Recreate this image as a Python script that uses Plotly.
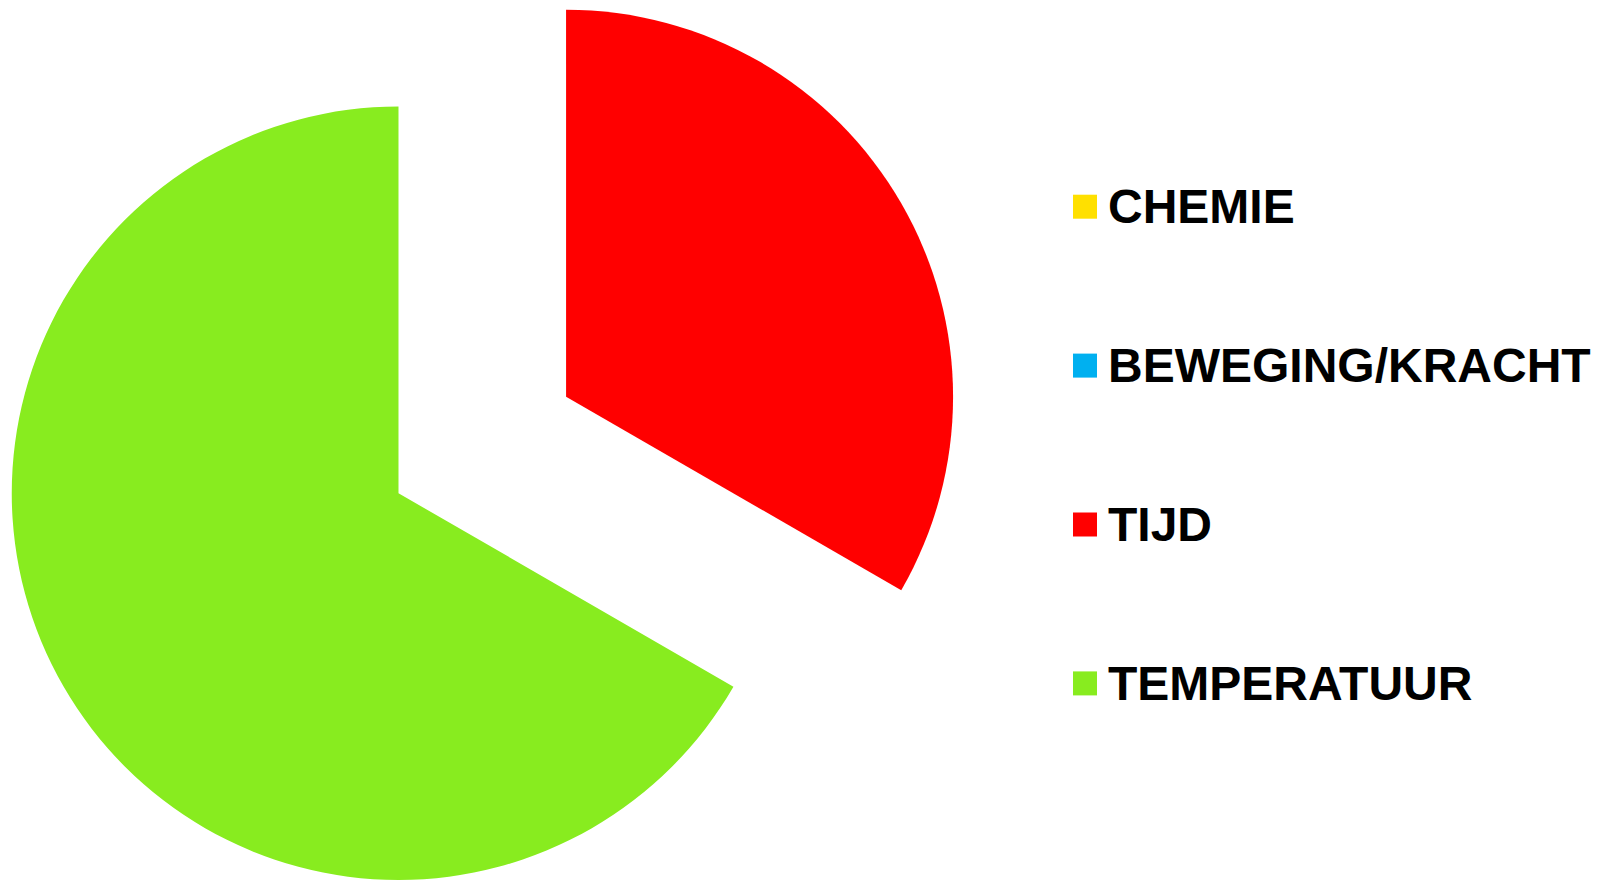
import plotly.graph_objects as go
import math

# ---- data ----
categories = ["CHEMIE", "BEWEGING/KRACHT", "TIJD", "TEMPERATUUR"]
values = [0, 0, 1, 2]
colors = ["#FFE000", "#00B0F0", "#FF0000", "#88EC1F"]
exploded = "TIJD"

# ---- layout constants (screen pixels; page body has an 8px margin) ----
OFF = 8
W, H = 1606 - OFF, 880 - OFF
R = 387
base_center = (398.5 - OFF, 493.5 - OFF)   # un-pulled pie centre (figure px)
pull = 0.5                                  # fraction of radius the exploded slice moves

total = sum(values)
idx = categories.index(exploded)
start = sum(values[:idx]) / total
mid = (start + values[idx] / total / 2) * 2 * math.pi   # clockwise from 12 o'clock
pulled_center = (base_center[0] + pull * R * math.sin(mid),
                 base_center[1] - pull * R * math.cos(mid))

def domain(center):
    cx, cy = center
    return dict(x=[max(0, (cx - R) / W), min(1, (cx + R) / W)],
                y=[max(0, 1 - (cy + R) / H), min(1, 1 - (cy - R) / H)])

TRANSP = "rgba(0,0,0,0)"
col_rest = [c if cat != exploded else TRANSP for cat, c in zip(categories, colors)]
col_expl = [c if cat == exploded else TRANSP for cat, c in zip(categories, colors)]

fig = go.Figure()
fig.add_trace(go.Pie(labels=categories, values=values, sort=False, direction="clockwise",
                     rotation=0, marker=dict(colors=col_rest), textinfo="none",
                     showlegend=False, domain=domain(base_center), hoverinfo="label+value"))
fig.add_trace(go.Pie(labels=categories, values=values, sort=False, direction="clockwise",
                     rotation=0, marker=dict(colors=col_expl), textinfo="none",
                     showlegend=False, domain=domain(pulled_center), hoverinfo="label+value"))

# ---- legend (drawn manually for large square swatches) ----
leg_x0, sq = 1073 - OFF, 24
leg_top, leg_step = 206.7 - OFF, 158.9
text_x = 1106 - OFF
shapes, annotations = [], []
for i, (cat, c) in enumerate(zip(categories, colors)):
    yc = leg_top + i * leg_step
    shapes.append(dict(type="rect", xref="paper", yref="paper",
                       x0=leg_x0 / W, x1=(leg_x0 + sq) / W,
                       y0=1 - (yc + sq / 2) / H, y1=1 - (yc - sq / 2) / H,
                       fillcolor=c, line=dict(width=0)))
    annotations.append(dict(text=cat, xref="paper", yref="paper", x=text_x / W, y=1 - yc / H,
                            xanchor="left", yanchor="middle", showarrow=False,
                            font=dict(family="Liberation Sans, Arial, sans-serif", size=48,
                                      color="#000000", weight="bold")))

fig.update_layout(width=W, height=H, margin=dict(l=0, r=0, t=0, b=0),
                  paper_bgcolor="white", plot_bgcolor="white",
                  shapes=shapes, annotations=annotations, showlegend=False)

fig.write_html("out.html")
